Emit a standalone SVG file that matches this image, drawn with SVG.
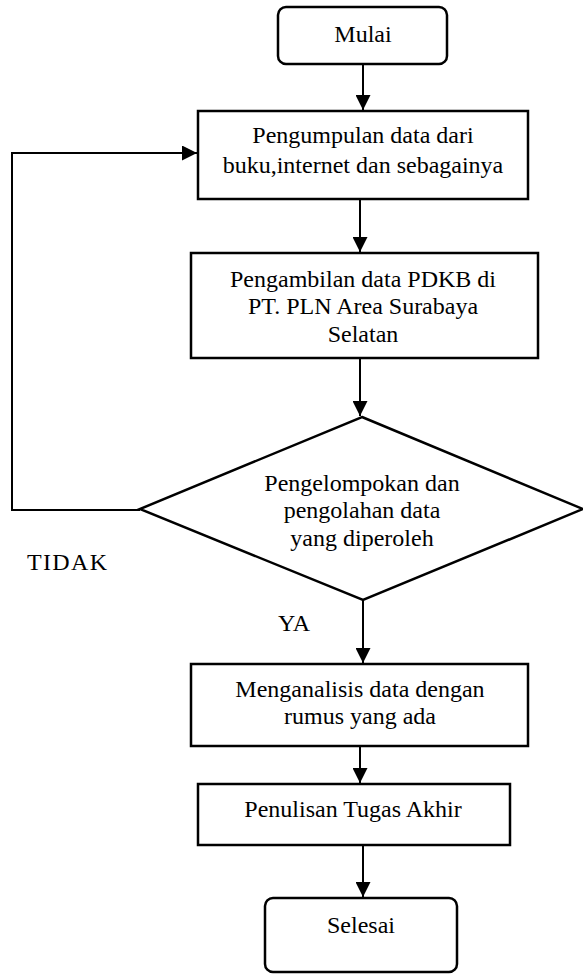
<svg xmlns="http://www.w3.org/2000/svg" width="583" height="974" viewBox="0 0 583 974">
<style>
  .box { fill: #ffffff; stroke: #000000; stroke-width: 2.5; }
  .line { fill: none; stroke: #000000; stroke-width: 2; }
  .t { fill: #000000; text-anchor: middle; }
  .lbl { fill: #000000; }
</style>
<defs>
  <marker id="arrow" viewBox="0 0 10 10" refX="10" refY="5" markerWidth="15" markerHeight="15" markerUnits="userSpaceOnUse" orient="auto">
    <path d="M0,0 L10,5 L0,10 z" fill="#000000"/>
  </marker>
</defs>
<rect x="0" y="0" width="583" height="974" fill="#ffffff"/>

<g id="connectors">
  <line class="line" x1="363" y1="64" x2="363" y2="110" marker-end="url(#arrow)"/>
  <line class="line" x1="360" y1="199" x2="360" y2="252" marker-end="url(#arrow)"/>
  <line class="line" x1="360" y1="358" x2="360" y2="416" marker-end="url(#arrow)"/>
  <line class="line" x1="363" y1="600" x2="363" y2="663" marker-end="url(#arrow)"/>
  <line class="line" x1="360" y1="746" x2="360" y2="783" marker-end="url(#arrow)"/>
  <line class="line" x1="363" y1="845" x2="363" y2="897" marker-end="url(#arrow)"/>
  <polyline class="line" points="140,510 12,510 12,153 197,153" marker-end="url(#arrow)"/>
</g>

<g font-family="Liberation Serif, Times New Roman, serif" font-size="24">
<g id="mulai">
  <rect class="box" x="278" y="7" width="169" height="57" rx="8" ry="8"/>
  <text class="t" x="363" y="42">Mulai</text>
</g>

<g id="pengumpulan">
  <rect class="box" x="198" y="111" width="330" height="88"/>
  <text class="t" x="363" y="143">Pengumpulan data dari</text>
  <text class="t" x="363" y="173">buku,internet dan sebagainya</text>
</g>

<g id="pengambilan">
  <rect class="box" x="191" y="253" width="347" height="105"/>
  <text class="t" x="363" y="287">Pengambilan data PDKB di</text>
  <text class="t" x="363" y="314">PT. PLN Area Surabaya</text>
  <text class="t" x="363" y="342">Selatan</text>
</g>

<g id="pengelompokan">
  <polygon class="box" points="362,417 583,509 363,600 140,509"/>
  <text class="t" x="362" y="491">Pengelompokan dan</text>
  <text class="t" x="362" y="518">pengolahan data</text>
  <text class="t" x="362" y="546">yang diperoleh</text>
</g>

<g id="label-tidak">
  <text class="lbl" x="27" y="570" textLength="80">TIDAK</text>
</g>
<g id="label-ya">
  <text class="lbl" x="278" y="631">YA</text>
</g>

<g id="menganalisis">
  <rect class="box" x="191" y="664" width="337" height="82"/>
  <text class="t" x="360" y="697">Menganalisis data dengan</text>
  <text class="t" x="360" y="724">rumus yang ada</text>
</g>

<g id="penulisan">
  <rect class="box" x="198" y="784" width="312" height="61"/>
  <text class="t" x="353" y="817">Penulisan Tugas Akhir</text>
</g>

<g id="selesai">
  <rect class="box" x="265" y="898" width="192" height="74" rx="8" ry="8"/>
  <text class="t" x="361" y="933">Selesai</text>
</g>
</g>
</svg>
